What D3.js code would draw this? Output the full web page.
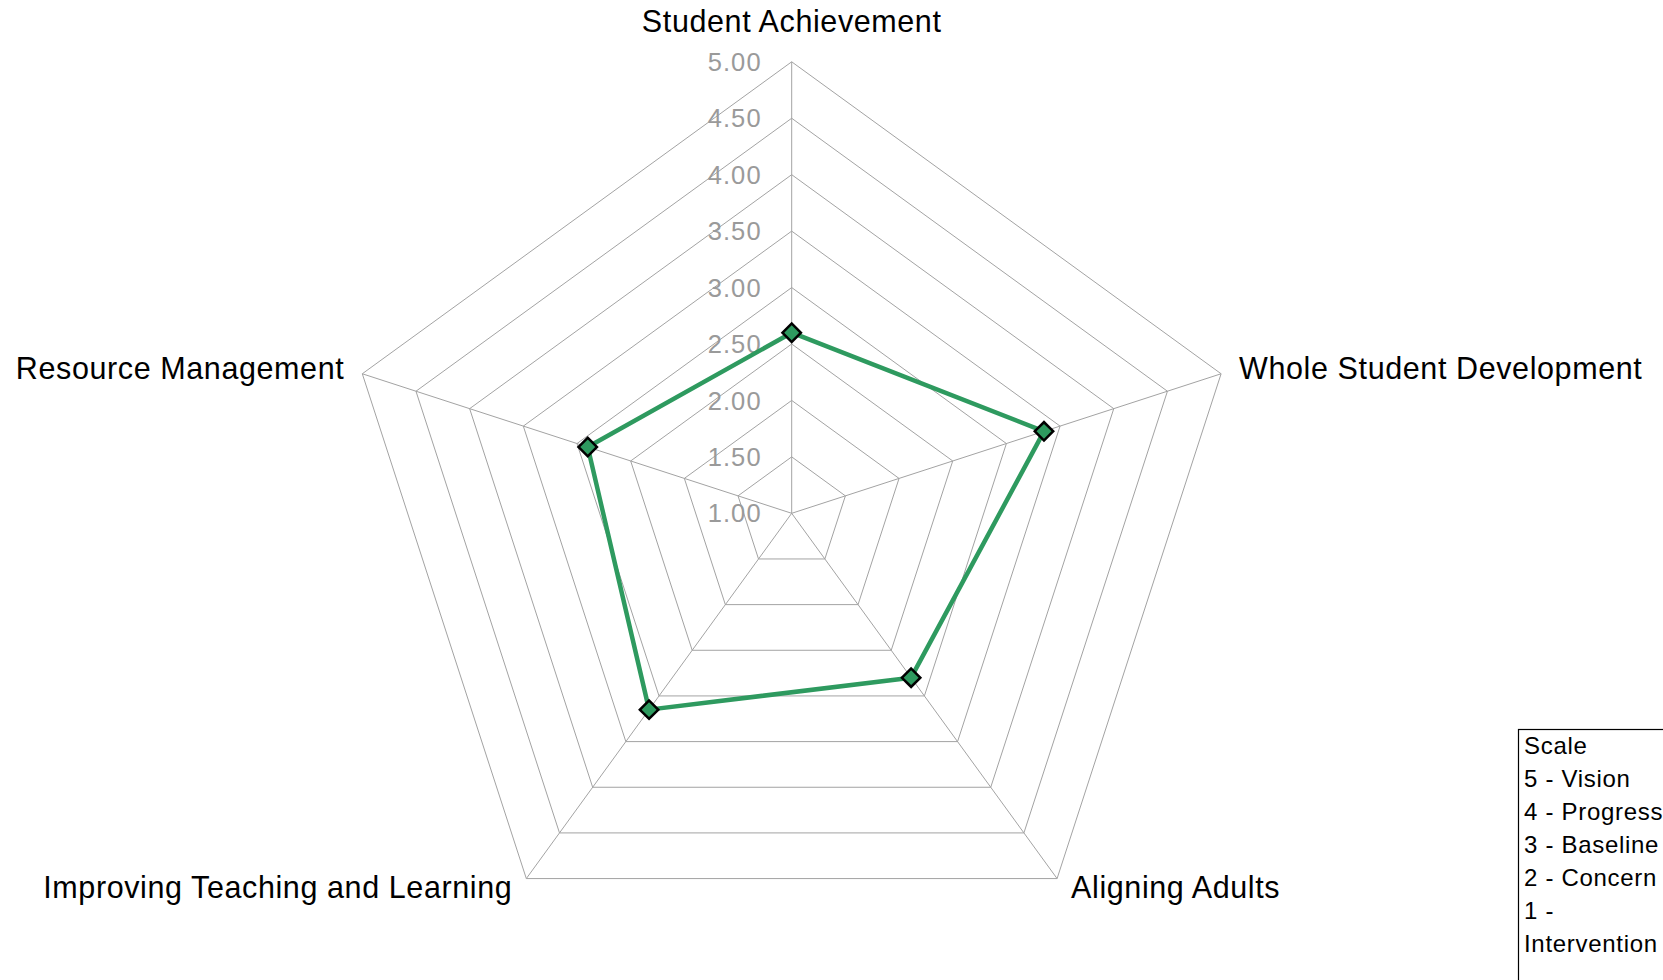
<!DOCTYPE html>
<html lang="en">
  <head>
    <meta charset="UTF-8" />
    <title>Scale radar</title>
    <style>
      html, body { margin: 0; padding: 0; background: #fff; }
      svg { display: block; font-family: "Liberation Sans", Arial, sans-serif; }
    </style>
  </head>
  <body>
    <svg width="1663" height="980"></svg>
    <script src="https://cdnjs.cloudflare.com/ajax/libs/d3/7.8.5/d3.min.js"></script>
    <script>
      var categories = [
        "Student Achievement",
        "Whole Student Development",
        "Aligning Adults",
        "Improving Teaching and Learning",
        "Resource Management",
      ];
      var scores = [2.6, 3.35, 2.8, 3.15, 2.9];
      var tickValues = [1, 1.5, 2, 2.5, 3, 3.5, 4, 4.5, 5];
      var legendLines = [
        "Scale",
        "5 - Vision",
        "4 - Progress",
        "3 - Baseline",
        "2 - Concern",
        "1 -",
        "Intervention",
      ];

      var svg = d3.select("svg"),
        cx = 791.7,
        cy = 513.3,
        radius = 451.5;

      var r = d3.scaleLinear().domain([1, 5]).range([0, radius]);
      var angle = d3
        .scaleLinear()
        .domain([0, categories.length])
        .range([0, 2 * Math.PI]);

      function point(i, v) {
        var a = angle(i);
        return [cx + r(v) * Math.sin(a), cy - r(v) * Math.cos(a)];
      }

      var green = "#2e9a5f";

      // grid rings
      var grid = svg.append("g").attr("class", "grid");
      grid
        .selectAll("polygon")
        .data(tickValues.slice(1))
        .enter()
        .append("polygon")
        .attr("points", function (t) {
          return categories
            .map(function (c, i) {
              return point(i, t).join(",");
            })
            .join(" ");
        })
        .attr("fill", "none")
        .attr("stroke", "#a3a3a3")
        .attr("stroke-width", 1);

      // spokes
      grid
        .selectAll("line")
        .data(categories)
        .enter()
        .append("line")
        .attr("x1", cx)
        .attr("y1", cy)
        .attr("x2", function (d, i) {
          return point(i, 5)[0];
        })
        .attr("y2", function (d, i) {
          return point(i, 5)[1];
        })
        .attr("stroke", "#a3a3a3")
        .attr("stroke-width", 1);

      // value ticks
      svg
        .append("g")
        .selectAll("text")
        .data(tickValues)
        .enter()
        .append("text")
        .attr("x", cx - 30)
        .attr("y", function (t) {
          return cy - r(t);
        })
        .attr("dy", "0.36em")
        .attr("text-anchor", "end")
        .attr("fill", "#9a9a9a")
        .style("font-size", "25.5px")
        .style("letter-spacing", "1.1px")
        .text(function (t) {
          return d3.format(".2f")(t);
        });

      // series
      var line = d3
        .line()
        .x(function (d, i) {
          return point(i, d)[0];
        })
        .y(function (d, i) {
          return point(i, d)[1];
        })
        .curve(d3.curveLinearClosed);

      svg
        .append("path")
        .datum(scores)
        .attr("d", line)
        .attr("fill", "none")
        .attr("stroke", green)
        .attr("stroke-width", 4.5)
        .attr("stroke-linejoin", "round");

      svg
        .append("g")
        .selectAll("path")
        .data(scores)
        .enter()
        .append("path")
        .attr("d", d3.symbol().type(d3.symbolSquare).size(170))
        .attr("transform", function (d, i) {
          var p = point(i, d);
          return "translate(" + p[0] + "," + p[1] + ") rotate(45)";
        })
        .attr("fill", green)
        .attr("stroke", "#000")
        .attr("stroke-width", 2.5);

      // category labels
      svg
        .append("g")
        .selectAll("text")
        .data(categories)
        .enter()
        .append("text")
        .attr("x", function (d, i) {
          var s = Math.sin(angle(i));
          var gap = Math.abs(s) > 0.9 ? 18 : 14;
          return point(i, 5)[0] + (s > 0.1 ? gap : s < -0.1 ? -gap : 0);
        })
        .attr("y", function (d, i) {
          var c = Math.cos(angle(i));
          if (i === 0) return point(i, 5)[1] - 30;
          return point(i, 5)[1] + (c < 0 ? 19 : 5);
        })
        .attr("text-anchor", function (d, i) {
          var s = Math.sin(angle(i));
          return s > 0.1 ? "start" : s < -0.1 ? "end" : "middle";
        })
        .attr("fill", "#000")
        .style("font-size", "30.5px")
        .style("letter-spacing", "0.6px")
        .text(function (d) {
          return d;
        });

      // scale box
      var legend = svg.append("g").attr("transform", "translate(1518,729)");
      legend
        .append("rect")
        .attr("x", 0.5)
        .attr("y", 0.5)
        .attr("width", 300)
        .attr("height", 400)
        .attr("fill", "#fff")
        .attr("stroke", "#000")
        .attr("stroke-width", 1.2);
      legend
        .selectAll("text")
        .data(legendLines)
        .enter()
        .append("text")
        .attr("x", 6)
        .attr("y", function (d, i) {
          return 25 + i * 33;
        })
        .attr("fill", "#000")
        .style("font-size", "24px")
        .style("letter-spacing", "0.7px")
        .text(function (d) {
          return d;
        });
    </script>
  </body>
</html>
